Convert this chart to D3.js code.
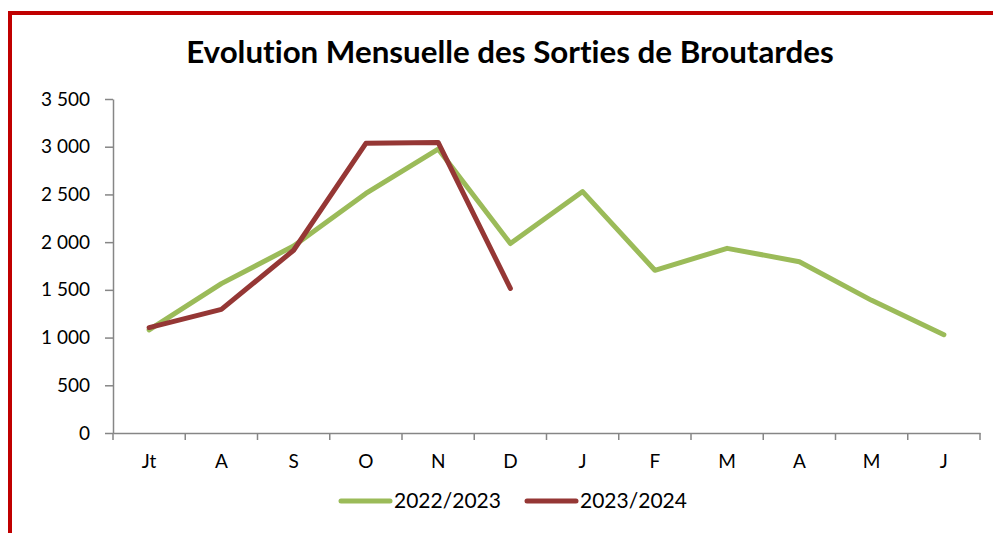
<!DOCTYPE html>
<html>
<head>
<meta charset="utf-8">
<script src="https://cdn.jsdelivr.net/npm/d3@7"></script>
<style>
  body { margin: 0; background: #fff; }
  svg { display: block; font-family: Lato, "Open Sans", sans-serif; font-variant-ligatures: none; }
</style>
</head>
<body>
<div id="chart"></div>
<script>
var w = 993;
var h = 533;

var months = ["Jt", "A", "S", "O", "N", "D", "J", "F", "M", "A", "M", "J"];
var s2022 = [1080, 1565, 1960, 2510, 2975, 1985, 2530, 1705, 1935, 1795, 1390, 1030];
var s2023 = [1105, 1295, 1915, 3035, 3045, 1515];
var seriesNames = ["2022/2023", "2023/2024"];
var seriesColors = ["#9BBB59", "#953735"];
var yTicks = [0, 500, 1000, 1500, 2000, 2500, 3000, 3500];

var svg = d3.select("#chart")
            .append("svg")
            .attr("width", w)
            .attr("height", h);

// red frame (right and bottom run off the picture)
svg.append("path")
    .attr("d", "M10," + (h + 5) + " L10,13 L" + (w + 5) + ",13")
    .attr("fill", "none")
    .attr("stroke", "#C00000")
    .attr("stroke-width", 4);

// title, fitted to the width of the original
var title = svg.append("text")
    .attr("x", 510)
    .attr("y", 63)
    .attr("text-anchor", "middle")
    .attr("font-weight", "bold")
    .attr("font-size", "26px")
    .attr("fill", "#000")
    .text("Evolution Mensuelle des Sorties de Broutardes");
var tw = title.node().getComputedTextLength();
title.attr("font-size", (26 * 648 / tw) + "px");

var xScale = d3.scaleBand()
    .domain(d3.range(months.length))
    .range([113, 980]);
var yScale = d3.scaleLinear()
    .domain([0, 3500])
    .range([433, 99]);

var fmt = function(d) {
    return d3.format(",")(d).replace(/,/g, " ");
};

var yAxis = d3.axisLeft(yScale)
    .tickValues(yTicks)
    .tickFormat(fmt)
    .tickSize(8)
    .tickSizeOuter(0)
    .tickPadding(15);
var gy = svg.append("g")
    .attr("transform", "translate(113,0)")
    .call(yAxis);

// x axis ticks sit on band boundaries
var xAxis = d3.axisBottom(xScale)
    .tickFormat(function(i) { return months[i]; })
    .tickSize(0)
    .tickPadding(22);
var gx = svg.append("g")
    .attr("transform", "translate(0,433)")
    .call(xAxis);
gx.selectAll(".bound")
    .data(d3.range(months.length + 1))
    .enter()
    .append("line")
    .attr("class", "bound")
    .attr("x1", function(i) { return 113 + i * xScale.step(); })
    .attr("x2", function(i) { return 113 + i * xScale.step(); })
    .attr("y1", 0)
    .attr("y2", 7)
    .attr("stroke", "#868686")
    .attr("stroke-width", 1.5);

[gx, gy].forEach(function(g) {
    g.attr("font-family", "Lato, 'Open Sans', sans-serif").attr("font-size", 19);
    g.selectAll(".domain, .tick line").attr("stroke", "#868686").attr("stroke-width", 1.5);
    g.selectAll("text").attr("fill", "#000");
});

var line = d3.line()
    .x(function(d, i) { return xScale(i) + xScale.bandwidth() / 2; })
    .y(function(d) { return yScale(d); });

[s2022, s2023].forEach(function(s, k) {
    svg.append("path")
        .datum(s)
        .attr("d", line)
        .attr("fill", "none")
        .attr("stroke", seriesColors[k])
        .attr("stroke-width", 5)
        .attr("stroke-linejoin", "round")
        .attr("stroke-linecap", "round");
});

// legend
var legendX = [341, 527];
var legend = svg.selectAll(".legend")
    .data(seriesNames)
    .enter()
    .append("g")
    .attr("class", "legend")
    .attr("transform", function(d, i) { return "translate(" + legendX[i] + ",501)"; });
legend.append("line")
    .attr("x1", 0)
    .attr("x2", 49)
    .attr("stroke", function(d, i) { return seriesColors[i]; })
    .attr("stroke-width", 5)
    .attr("stroke-linecap", "round");
legend.append("text")
    .attr("x", 53)
    .attr("y", 7)
    .attr("font-family", "Lato, 'Open Sans', sans-serif")
    .attr("font-size", "21px")
    .attr("fill", "#000")
    .text(function(d) { return d; });
</script>
</body>
</html>
